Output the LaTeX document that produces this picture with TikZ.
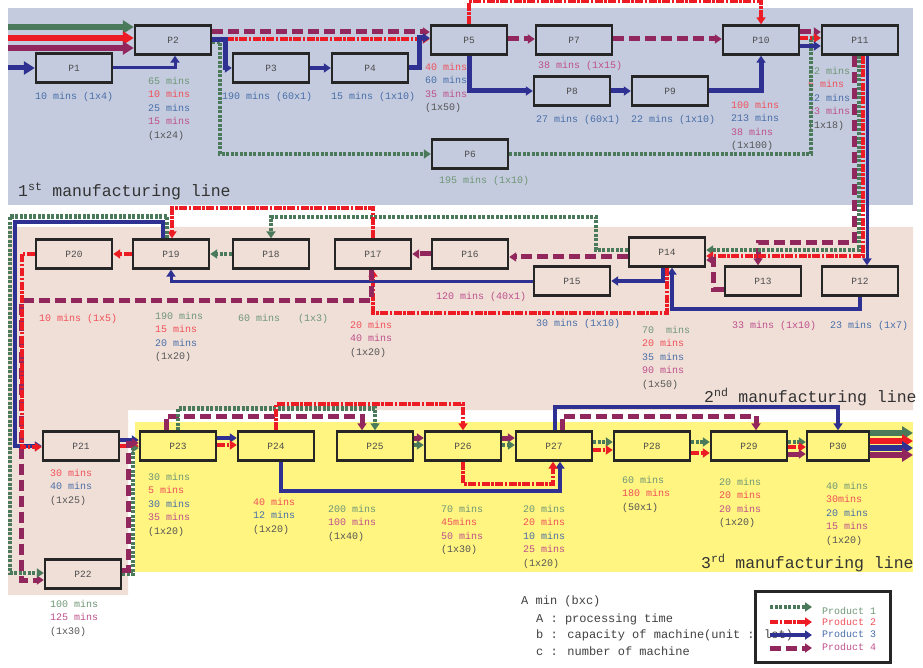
\documentclass[tikz,border=0pt]{standalone}
\usepackage{fontspec}
\setmainfont{Liberation Mono}
\usepackage{xcolor}
\usetikzlibrary{arrows.meta,positioning}

\definecolor{bgone}{RGB}{196,203,222}
\definecolor{bgtwo}{RGB}{240,223,215}
\definecolor{bgthree}{RGB}{255,245,128}
\definecolor{pone}{RGB}{74,122,90}
\definecolor{ptwo}{RGB}{237,28,36}
\definecolor{pthree}{RGB}{46,49,146}
\definecolor{pfour}{RGB}{146,39,93}
\definecolor{tone}{RGB}{110,150,118}
\definecolor{ttwo}{RGB}{240,80,90}
\definecolor{tthree}{RGB}{72,110,168}
\definecolor{tfour}{RGB}{190,80,140}
\definecolor{tk}{RGB}{85,85,85}

\newcommand{\tA}[1]{\textcolor{tone}{#1}}
\newcommand{\tB}[1]{\textcolor{ttwo}{#1}}
\newcommand{\tC}[1]{\textcolor{tthree}{#1}}
\newcommand{\tD}[1]{\textcolor{tfour}{#1}}
\newcommand{\tK}[1]{\textcolor{tk}{#1}}

\begin{document}
\begin{tikzpicture}[
  x=1pt, y=-1pt,
  >={Triangle[length=7pt,width=9pt]},
  proc/.style={draw=black!85, line width=2.4pt, minimum width=76pt, minimum height=29pt, inner sep=0pt, font=\fontsize{9.5}{10}\selectfont, text=black!70},
  flowA/.style={->, draw=pone, line width=4.5pt, dash pattern=on 3pt off 1.5pt},
  flowB/.style={->, draw=ptwo, line width=4pt, dash pattern=on 8pt off 1.5pt on 2.5pt off 1.5pt},
  flowC/.style={->, draw=pthree, line width=4pt},
  flowD/.style={->, draw=pfour, line width=5pt, dash pattern=on 11pt off 5pt},
  feed/.style={line width=6pt, -{Triangle[length=11pt,width=13pt]}},
  lbl/.style={anchor=north west, inner sep=0pt, align=left, font=\fontsize{10}{13.5}\selectfont},
  title/.style={anchor=west, inner sep=0pt, font=\fontsize{16.5}{20}\selectfont, text=black!80},
  keytxt/.style={anchor=west, inner sep=0pt, font=\fontsize{12}{14}\selectfont, text=black!75},
  prodtxt/.style={anchor=west, inner sep=0pt, font=\fontsize{10}{12}\selectfont}
]
\useasboundingbox (0,0) rectangle (923,668);

% areas of the three lines
\fill[bgone] (8,8) rectangle (913,205);
\fill[bgtwo] (8,227) -- (913,227) -- (913,410) -- (128,410) -- (128,595) -- (8,595) -- cycle;
\fill[bgthree] (135,422) rectangle (913,572);

% 1st manufacturing line
\node[proc, fill=bgone] (P1) at (74,68) {P1};
\node[proc, fill=bgone] (P2) at (173,40) {P2};
\node[proc, fill=bgone] (P3) at (271,68) {P3};
\node[proc, fill=bgone] (P4) at (370,68) {P4};
\node[proc, fill=bgone] (P5) at (469,40) {P5};
\node[proc, fill=bgone] (P7) at (574,40) {P7};
\node[proc, fill=bgone] (P8) at (572,91) {P8};
\node[proc, fill=bgone] (P9) at (670,91) {P9};
\node[proc, fill=bgone] (P10) at (761,40) {P10};
\node[proc, fill=bgone] (P11) at (860,40) {P11};
\node[proc, fill=bgone] (P6) at (470,154) {P6};

% 2nd manufacturing line
\node[proc, fill=bgtwo] (P20) at (74,254) {P20};
\node[proc, fill=bgtwo] (P19) at (171,254) {P19};
\node[proc, fill=bgtwo] (P18) at (271,254) {P18};
\node[proc, fill=bgtwo] (P17) at (373,254) {P17};
\node[proc, fill=bgtwo] (P16) at (470,254) {P16};
\node[proc, fill=bgtwo] (P15) at (572,281) {P15};
\node[proc, fill=bgtwo] (P14) at (667,252) {P14};
\node[proc, fill=bgtwo] (P13) at (763,281) {P13};
\node[proc, fill=bgtwo] (P12) at (860,281) {P12};
\node[proc, fill=bgtwo] (P21) at (81,446) {P21};
\node[proc, fill=bgtwo] (P22) at (83,574) {P22};

% 3rd manufacturing line
\node[proc, fill=bgthree] (P23) at (178,446) {P23};
\node[proc, fill=bgthree] (P24) at (276,446) {P24};
\node[proc, fill=bgthree] (P25) at (375,446) {P25};
\node[proc, fill=bgthree] (P26) at (463,446) {P26};
\node[proc, fill=bgthree] (P27) at (554,446) {P27};
\node[proc, fill=bgthree] (P28) at (652,446) {P28};
\node[proc, fill=bgthree] (P29) at (749,446) {P29};
\node[proc, fill=bgthree, minimum width=62pt] (P30) at (838,446) {P30};

% times and machines
\node[lbl, text=tthree] (l1) at (35,92) {10 mins (1x4)};
\node[lbl] (s2) at (148,77) {\tA{65 mins}\\\tB{10 mins}\\\tC{25 mins}\\\tD{15 mins}\\\tK{(1x24)}};
\node[lbl, text=tthree] (l3) at (222,92) {190 mins (60x1)};
\node[lbl, text=tthree] (l4) at (331,92) {15 mins (1x10)};
\node[lbl] (s5) at (425,63) {\tB{40 mins}\\\tC{60 mins}\\\tD{35 mins}\\\tK{(1x50)}};
\node[lbl, text=tfour] (l7) at (538,61) {38 mins (1x15)};
\node[lbl, text=tthree] (l8) at (536,115) {27 mins (60x1)};
\node[lbl, text=tthree] (l9) at (631,115) {22 mins (1x10)};
\node[lbl] (s10) at (731,101) {\tB{100 mins}\\\tC{213 mins}\\\tD{38 mins}\\\tK{(1x100)}};
\node[lbl] (s11) at (808,67) {\tA{22 mins}\\\tB{6 mins}\\\tC{12 mins}\\\tD{23 mins}\\\tK{(1x18)}};
\node[lbl, text=tone] (l6) at (439,176) {195 mins (1x10)};

\node[lbl, text=ttwo] (l20) at (39,314) {10 mins (1x5)};
\node[lbl] (s19) at (155,312) {\tA{190 mins}\\\tB{15 mins}\\\tC{20 mins}\\\tK{(1x20)}};
\node[lbl, text=tone] (l18) at (238,314) {60 mins\ \ \ (1x3)};
\node[lbl] (s17) at (350,321) {\tB{20 mins}\\\tD{40 mins}\\\tK{(1x20)}};
\node[lbl, text=tfour] (l16) at (436,292) {120 mins (40x1)};
\node[lbl, text=tthree] (l15) at (536,319) {30 mins (1x10)};
\node[lbl] (s14) at (642,326) {\tA{70\ \ mins}\\\tB{20 mins}\\\tC{35 mins}\\\tD{90 mins}\\\tK{(1x50)}};
\node[lbl, text=tfour] (l13) at (732,321) {33 mins (1x10)};
\node[lbl, text=tthree] (l12) at (830,321) {23 mins (1x7)};

\node[lbl] (s21) at (50,469) {\tB{30 mins}\\\tC{40 mins}\\\tK{(1x25)}};
\node[lbl] (s22) at (50,600) {\tA{100 mins}\\\tD{125 mins}\\\tK{(1x30)}};
\node[lbl] (s23) at (148,473) {\tA{30 mins}\\\tB{5 mins}\\\tC{30 mins}\\\tD{35 mins}\\\tK{(1x20)}};
\node[lbl] (s24) at (253,498) {\tB{40 mins}\\\tC{12 mins}\\\tK{(1x20)}};
\node[lbl] (s25) at (328,505) {\tA{200 mins}\\\tD{100 mins}\\\tK{(1x40)}};
\node[lbl] (s26) at (441,505) {\tA{70 mins}\\\tB{45mins}\\\tD{50 mins}\\\tK{(1x30)}};
\node[lbl] (s27) at (523,505) {\tA{20 mins}\\\tB{20 mins}\\\tC{10 mins}\\\tD{25 mins}\\\tK{(1x20)}};
\node[lbl] (s28) at (622,476) {\tA{60 mins}\\\tB{180 mins}\\\tK{(50x1)}};
\node[lbl] (s29) at (719,478) {\tA{20 mins}\\\tB{20 mins}\\\tD{20 mins}\\\tK{(1x20)}};
\node[lbl] (s30) at (826,482) {\tA{40 mins}\\\tB{30mins}\\\tC{20 mins}\\\tD{15 mins}\\\tK{(1x20)}};

\node[title] (line1) at (18,191) {1\textsuperscript{st} manufacturing line};
\node[title] (line2) at (704,397) {2\textsuperscript{nd} manufacturing line};
\node[title] (line3) at (701,563) {3\textsuperscript{rd} manufacturing line};

% entries and exits
\coordinate (src) at (8,40);
\coordinate (snk) at (913,446);
\draw[feed, pone] ([yshift=13pt]src) -- ([yshift=13pt]P2.west);
\draw[feed, ptwo] ([yshift=2pt]src) -- ([yshift=2pt]P2.west);
\draw[feed, pfour] ([yshift=-8pt]src) -- ([yshift=-8pt]P2.west);
\draw[feed, pthree, line width=5pt] (P1.west -| src) -- (P1.west);

% flows, 1st line
\draw[flowC, line width=3pt] (P1.east) -| ([xshift=2pt]P2.south);
\draw[flowA] ([yshift=-2pt]P2.east) -- ++(8,0) |- (P6.west);
\draw[flowD] ([yshift=8pt]P2.east) -- ([yshift=8pt]P5.west);
\draw[flowB] ([yshift=1pt]P2.east) -- ([yshift=1pt]P5.west);
\draw[flowC, line width=5pt] (P2.east) -- ++(13,0) |- (P3.west);
\draw[flowC] (P3) -- (P4);
\draw[flowC, line width=5pt] (P4.east) -- ++(10,0) |- ([yshift=2pt]P5.west);
\draw[flowB] (P5.north) -- ++(0,-23) -| (P10.north);
\draw[flowD] ([yshift=1pt]P5.east) -- ([yshift=1pt]P7.west);
\draw[flowC, line width=5pt] (P5.south) |- (P8.west);
\draw[flowD] ([yshift=1pt]P7.east) -- ([yshift=1pt]P10.west);
\draw[flowC, line width=5pt] (P8) -- (P9);
\draw[flowC, line width=5pt] (P9.east) -| (P10.south);
\draw[flowA] (P6.east) -- ++(302,0) |- ([yshift=2pt]P11.west);
\draw[flowD] ([yshift=8pt]P10.east) -- ([yshift=8pt]P11.west);
\draw[flowB] ([yshift=2pt]P10.east) -- ([yshift=2pt]P11.west);
\draw[flowC] ([yshift=-6pt]P10.east) -- ([yshift=-6pt]P11.west);

% flows, 2nd line
\draw[flowD] ([xshift=-6pt]P11.south) -- ++(0,187) -| ([xshift=-5pt]P13.north);
\draw[flowA] ([xshift=-1pt]P11.south) |- ([yshift=2pt]P14.east);
\draw[flowB] ([xshift=3pt]P11.south) |- ([yshift=-4pt]P14.east);
\draw[flowC, line width=3pt] ([xshift=7pt]P11.south) -- ([xshift=7pt]P12.north);
\draw[flowC] (P12.south) -- ++(0,12) -| ([xshift=5pt]P14.south);
\draw[flowD] ([yshift=-8pt]P13.west) -- ++(-10,0) |- ([yshift=-8pt]P14.east);
\draw[flowC] ([xshift=-4pt]P14.south) |- (P15.east);
\draw[flowB] (P14.south) -- ++(0,45) -| (P17.south);
\draw[flowD] ([yshift=-5pt]P14.west) -- ([yshift=-3pt]P16.east);
\draw[flowA] ([yshift=2pt]P14.west) -- ++(-32,0) -- ++(0,-33) -| (P18.north);
\draw[flowA] (P18.west) -- (P19.east);
\draw[flowC, line width=3pt] (P15.west) -| (P19.south);
\draw[flowD] (P16.west) -- (P17.east);
\draw[flowB] (P17.north) -- ++(0,-30) -| ([xshift=1pt]P19.north);
\draw[flowB] (P19.west) -- (P20.east);
\draw[flowD] ([xshift=-2pt]P17.south) -- ++(0,31) -- ++(-350,0) |- ([yshift=-6pt]P22.west);
\draw[flowA] ([xshift=-4pt]P19.north) -- ++(0,-22) -- ++(-157,0) |- ([yshift=1pt]P22.west);
\draw[flowC] ([xshift=-8pt]P19.north) -- ++(0,-16) -- ++(-148,0) |- (P21.west);
\draw[flowB] (P20.west) -- ++(-13,0) |- ([yshift=-1pt]P21.west);

% flows, 3rd line
\draw[flowC] ([yshift=6pt]P21.east) -- ([yshift=6pt]P23.west);
\draw[flowB] (P21.east) -- (P23.west);
\draw[flowA] (P22.east) -- ++(11,0) |- ([yshift=-2pt]P23.west);
\draw[flowD] ([yshift=4pt]P22.east) -- ++(6,0) |- ([yshift=3pt]P23.west);
\draw[flowC] ([yshift=8pt]P23.east) -- ([yshift=8pt]P24.west);
\draw[flowB] ([yshift=1pt]P23.east) -- ([yshift=1pt]P24.west);
\draw[flowD] ([xshift=-12pt]P23.north) -- ++(0,-14) -| ([xshift=-13pt]P25.north);
\draw[flowA] (P23.north) -- ++(0,-22) -| (P25.north);
\draw[flowB] (P24.north) -- ++(0,-26) -| (P26.north);
\draw[flowC] ([xshift=5pt]P24.south) -- ++(0,29) -| ([xshift=6pt]P27.south);
\draw[flowD] ([yshift=8pt]P25.east) -- ([yshift=8pt]P26.west);
\draw[flowA] ([yshift=1pt]P25.east) -- ([yshift=1pt]P26.west);
\draw[flowD] ([yshift=8pt]P26.east) -- ([yshift=8pt]P27.west);
\draw[flowA] ([yshift=1pt]P26.east) -- ([yshift=1pt]P27.west);
\draw[flowB] (P26.south) -- ++(0,22) -| ([xshift=-1pt]P27.south);
\draw[flowC] ([xshift=1pt]P27.north) -- ++(0,-23) -| (P30.north);
\draw[flowD] ([xshift=8pt]P27.north) -- ++(0,-14) -| ([xshift=7pt]P29.north);
\draw[flowA] ([yshift=4pt]P27.east) -- ([yshift=4pt]P28.west);
\draw[flowB] ([yshift=-4pt]P27.east) -- ([yshift=-4pt]P28.west);
\draw[flowA] ([yshift=4pt]P28.east) -- ([yshift=4pt]P29.west);
\draw[flowB] ([yshift=-7pt]P28.east) -- ([yshift=-7pt]P29.west);
\draw[flowA] ([yshift=4pt]P29.east) -- ([yshift=4pt]P30.west);
\draw[flowB] ([yshift=-1pt]P29.east) -- ([yshift=-1pt]P30.west);
\draw[flowD] ([yshift=-8pt]P29.east) -- ([yshift=-8pt]P30.west);

\draw[feed, pone] ([yshift=13pt]P30.east) -- ([yshift=13pt]snk);
\draw[feed, ptwo] ([yshift=5pt]P30.east) -- ([yshift=5pt]snk);
\draw[feed, pthree] ([yshift=-2pt]P30.east) -- ([yshift=-2pt]snk);
\draw[feed, pfour] ([yshift=-9pt]P30.east) -- ([yshift=-9pt]snk);

% key
\node[keytxt] (k0) at (521,601) {A min (bxc)};
\node[keytxt] (k1) at (536,619) {A : processing time};
\node[keytxt] (k2) at (536,635) {b : capacity of machine(unit : lot)};
\node[keytxt] (k3) at (536,651) {c : number of machine};

\node[draw=black!85, line width=2.4pt, minimum width=135pt, minimum height=71pt] (legend) at (823,627) {};
\node[prodtxt, text=tone] (lg1) at (822,611) {Product 1};
\node[prodtxt, text=ttwo] (lg2) at (822,622) {Product 2};
\node[prodtxt, text=tthree] (lg3) at (822,634) {Product 3};
\node[prodtxt, text=tfour] (lg4) at (822,647) {Product 4};
\draw[flowA] ([xshift=-52pt,yshift=4pt]lg1.west) -- ([xshift=-10pt,yshift=4pt]lg1.west);
\draw[flowB] ([xshift=-52pt]lg2.west) -- ([xshift=-10pt]lg2.west);
\draw[flowC] ([xshift=-52pt,yshift=-1pt]lg3.west) -- ([xshift=-10pt,yshift=-1pt]lg3.west);
\draw[flowD] ([xshift=-52pt,yshift=-1pt]lg4.west) -- ([xshift=-10pt,yshift=-1pt]lg4.west);
\end{tikzpicture}
\end{document}
